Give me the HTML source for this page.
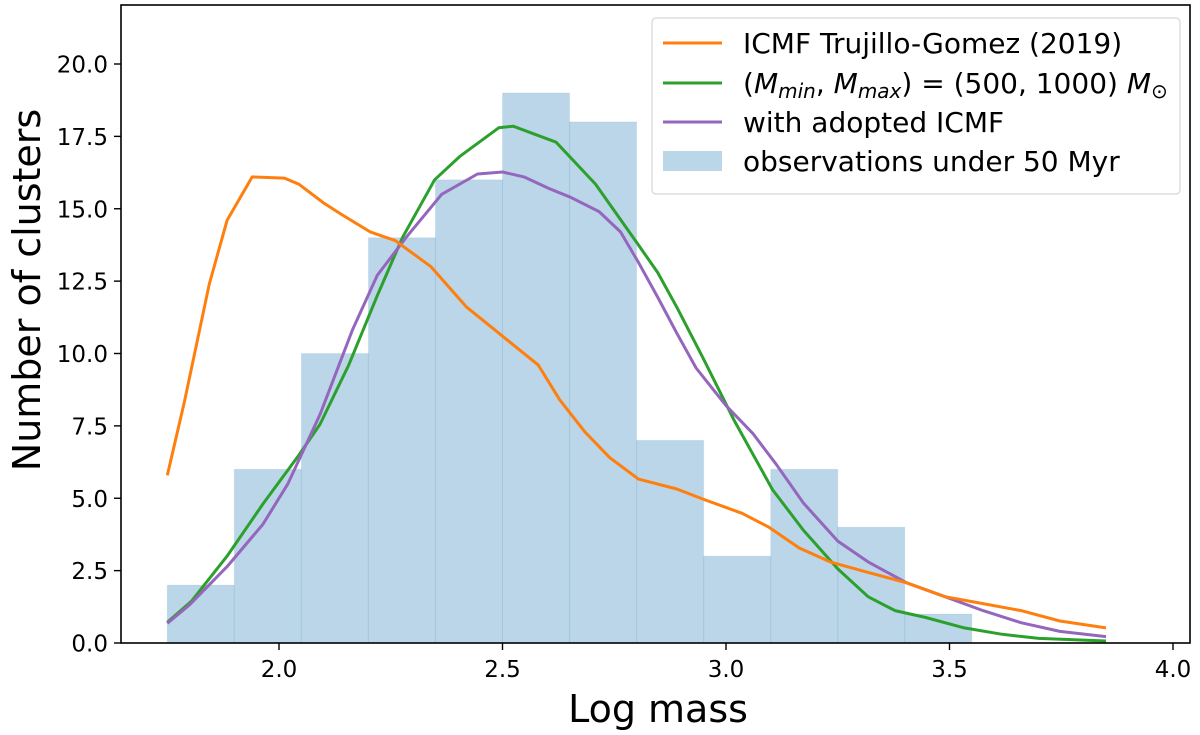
<!DOCTYPE html>
<html><head><meta charset="utf-8">
<style>
html,body{margin:0;padding:0;background:#fff;}
svg{display:block;font-family:"DejaVu Sans","Liberation Sans",sans-serif;}
</style></head>
<body>
<svg id="chart" width="1200" height="735" viewBox="0 0 1200 735" xmlns="http://www.w3.org/2000/svg">
  <g id="bars"></g>
  <g id="lines"></g>
  <rect x="121" y="5" width="1069" height="638" fill="none" stroke="#000" stroke-width="1.6"/>
  <g id="xticks"></g>
  <g id="yticks"></g>
  <text x="658" y="722" font-size="38" text-anchor="middle">Log mass</text>
  <text transform="translate(40,290) rotate(-90)" font-size="38" text-anchor="middle">Number of clusters</text>
  <g>
    <rect x="652" y="18" width="528" height="176" rx="4" fill="#fff" fill-opacity="0.85" stroke="#d6d6d6" stroke-width="1.2"/>
    <line x1="663" y1="43" x2="722" y2="43" stroke="#ff7f0e" stroke-width="3"/>
    <text x="743" y="53" font-size="28">ICMF Trujillo-Gomez (2019)</text>
    <line x1="663" y1="83" x2="722" y2="83" stroke="#2ca02c" stroke-width="3"/>
    <text x="743" y="93" font-size="28">(<tspan font-style="italic">M</tspan><tspan font-style="italic" font-size="20" dy="5">min</tspan><tspan dy="-5">, </tspan><tspan font-style="italic">M</tspan><tspan font-style="italic" font-size="20" dy="5">max</tspan><tspan dy="-5">) = (500, 1000) </tspan><tspan font-style="italic">M</tspan><tspan font-size="20" dy="5">⊙</tspan></text>
    <line x1="663" y1="122" x2="722" y2="122" stroke="#9467bd" stroke-width="3"/>
    <text x="743" y="132" font-size="28">with adopted ICMF</text>
    <rect x="663" y="151" width="59" height="20" fill="#1f77b4" fill-opacity="0.3"/>
    <text x="743" y="171" font-size="28">observations under 50 Myr</text>
  </g>
</svg>
<script>
const binEdgeStart = 1.75;
const binWidth = 0.15;
const counts = [2,6,10,14,16,19,18,7,3,6,4,1];
const xTicks = [2.0,2.5,3.0,3.5,4.0];
const xTickLabels = ["2.0","2.5","3.0","3.5","4.0"];
const yTicks = [0,2.5,5,7.5,10,12.5,15,17.5,20];
const yTickLabels = ["0.0","2.5","5.0","7.5","10.0","12.5","15.0","17.5","20.0"];
const orangeX = [1.75,1.788,1.844,1.884,1.94,2.012,2.044,2.1,2.14,2.204,2.26,2.34,2.42,2.476,2.524,2.58,2.628,2.684,2.74,2.804,2.89,2.95,3.036,3.096,3.164,3.233,3.318,3.404,3.49,3.575,3.66,3.747,3.85];
const orangeY = [5.79,8.3,12.4,14.6,16.1,16.06,15.85,15.2,14.8,14.2,13.9,13.0,11.6,10.9,10.3,9.6,8.4,7.3,6.4,5.66,5.32,4.96,4.48,4.0,3.28,2.8,2.44,2.08,1.6,1.36,1.12,0.76,0.52];
const greenX = [1.75,1.804,1.884,1.964,2.044,2.092,2.156,2.22,2.276,2.348,2.404,2.492,2.524,2.62,2.708,2.804,2.847,2.89,2.95,3.018,3.104,3.173,3.25,3.318,3.378,3.447,3.533,3.618,3.7,3.85];
const greenY = [0.72,1.44,3.0,4.8,6.48,7.56,9.6,12.0,14.0,16.0,16.8,17.8,17.85,17.3,15.85,13.75,12.8,11.6,9.8,7.7,5.3,3.9,2.56,1.6,1.12,0.88,0.52,0.3,0.16,0.07];
const purpleX = [1.75,1.8,1.884,1.964,2.02,2.092,2.164,2.22,2.284,2.364,2.444,2.5,2.548,2.604,2.652,2.716,2.764,2.804,2.847,2.89,2.933,3.0,3.06,3.113,3.173,3.25,3.318,3.404,3.49,3.575,3.66,3.747,3.85];
const purpleY = [0.68,1.32,2.64,4.1,5.5,7.9,10.8,12.7,14.0,15.5,16.2,16.27,16.1,15.7,15.4,14.9,14.2,13.15,11.95,10.7,9.5,8.2,7.24,6.16,4.84,3.52,2.8,2.08,1.6,1.12,0.7,0.4,0.22];

const NS = "http://www.w3.org/2000/svg";
function xs(v){ return 279 + (v - 2) * 447; }
function ys(v){ return 643 - v * 28.95; }
function mk(tag, attrs, parent){
  const e = document.createElementNS(NS, tag);
  for (const k in attrs) e.setAttribute(k, attrs[k]);
  parent.appendChild(e);
  return e;
}
const barsG = document.getElementById('bars');
counts.forEach((c, i) => {
  const x0 = xs(binEdgeStart + i * binWidth), x1 = xs(binEdgeStart + (i + 1) * binWidth);
  const r = mk('rect', {x: x0, y: ys(c), width: x1 - x0, height: ys(0) - ys(c), fill: '#1f77b4', 'fill-opacity': 0.3, stroke: '#1f77b4', 'stroke-opacity': 0.08, 'stroke-width': 1}, barsG);
  
  
});
const linesG = document.getElementById('lines');
function drawLine(X, Y, color, name){
  let d = '';
  X.forEach((x, i) => { d += (i ? 'L' : 'M') + xs(x).toFixed(1) + ',' + ys(Y[i]).toFixed(1); });
  const p = mk('path', {d: d, fill: 'none', stroke: color, 'stroke-width': 3, 'stroke-linejoin': 'round'}, linesG);
  
  
}
drawLine(greenX, greenY, '#2ca02c', 'line-mmin-mmax');
drawLine(purpleX, purpleY, '#9467bd', 'line-adopted-icmf');
drawLine(orangeX, orangeY, '#ff7f0e', 'line-trujillo-gomez');

const xg = document.getElementById('xticks');
xTicks.forEach((v, i) => {
  const t = mk('line', {x1: xs(v), x2: xs(v), y1: 643, y2: 650, stroke: '#000', 'stroke-width': 1.4}, xg);
  
  
  const l = mk('text', {x: xs(v), y: 677, 'font-size': 23, 'text-anchor': 'middle'}, xg);
  l.textContent = xTickLabels[i];
  
  
});
const yg = document.getElementById('yticks');
yTicks.forEach((v, i) => {
  const t = mk('line', {x1: 114, x2: 121, y1: ys(v), y2: ys(v), stroke: '#000', 'stroke-width': 1.4}, yg);
  
  
  const l = mk('text', {x: 108, y: ys(v) + 8.5, 'font-size': 23, 'text-anchor': 'end'}, yg);
  l.textContent = yTickLabels[i];
  
  
});
</script>
</body></html>
